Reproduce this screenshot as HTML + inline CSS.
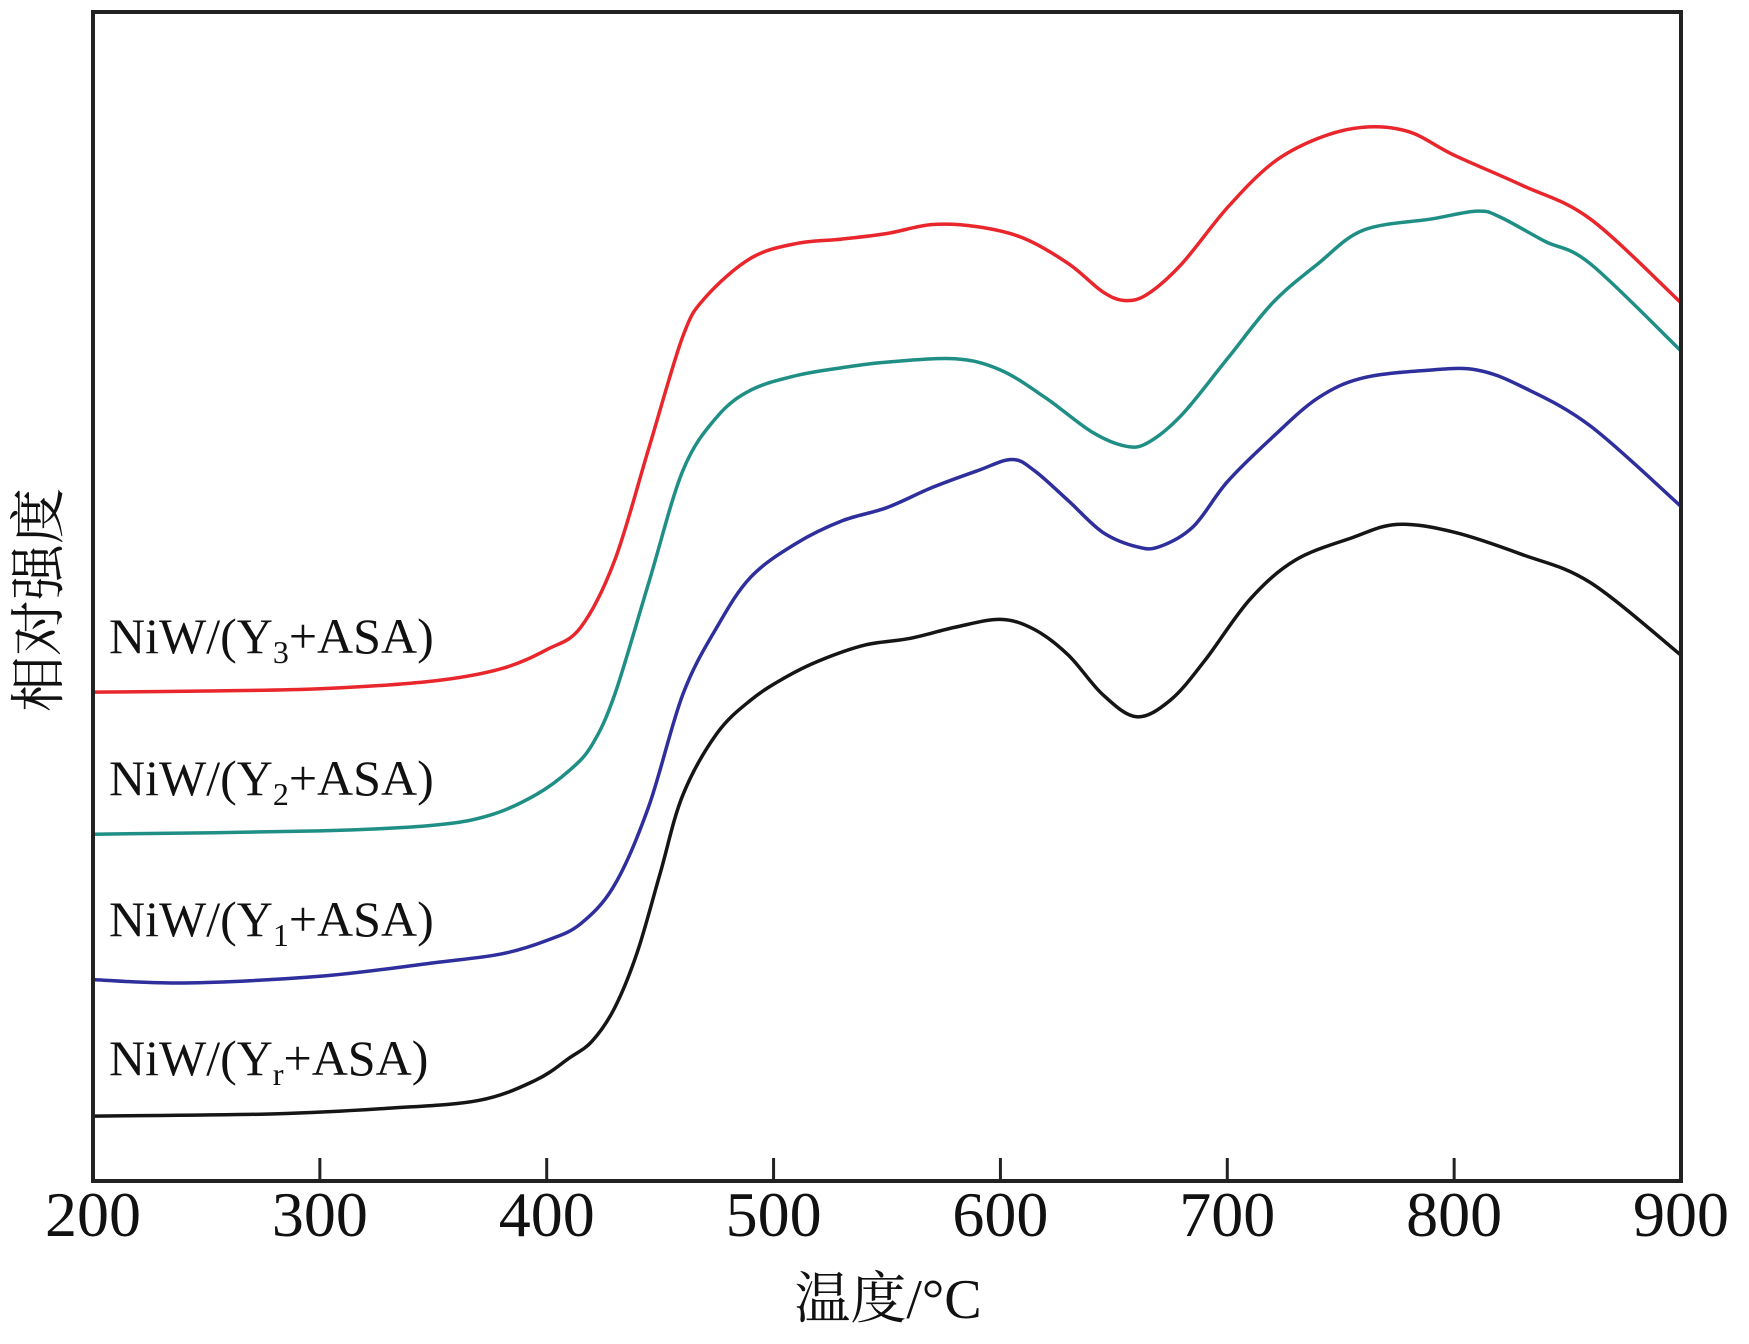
<!DOCTYPE html>
<html><head><meta charset="utf-8">
<style>
html,body{margin:0;padding:0;background:#fff;}
svg{display:block;}
text{font-family:"Liberation Serif","Noto Serif CJK SC",serif;fill:#111;}
</style></head>
<body>
<svg id="chart" width="1749" height="1344" viewBox="0 0 1749 1344" xmlns="http://www.w3.org/2000/svg">
<g id="plot"></g>
<rect x="93" y="12" width="1588" height="1169" fill="none" stroke="#222" stroke-width="4"/>
<g id="xticks"></g>
<text x="888" y="1318" font-size="56" text-anchor="middle" font-family="'Liberation Serif','Noto Serif CJK SC',serif">温度/°C</text>
<text transform="translate(58,600) rotate(-90)" font-size="56" text-anchor="middle" font-family="'Liberation Serif','Noto Serif CJK SC',serif">相对强度</text>
<text x="109" y="653" font-size="50">NiW/(Y<tspan font-size="32" dy="10">3</tspan><tspan dy="-10">+ASA)</tspan></text>
<text x="109" y="795" font-size="50">NiW/(Y<tspan font-size="32" dy="10">2</tspan><tspan dy="-10">+ASA)</tspan></text>
<text x="109" y="936" font-size="50">NiW/(Y<tspan font-size="32" dy="10">1</tspan><tspan dy="-10">+ASA)</tspan></text>
<text x="109" y="1075" font-size="50">NiW/(Y<tspan font-size="32" dy="10">r</tspan><tspan dy="-10">+ASA)</tspan></text>
</svg>
<script>
const xTicks=[200,300,400,500,600,700,800,900];
const redX=[200,250,300,350,380,400,415,430,445,460,470,490,510,530,550,570,590,610,630,645,655,665,680,700,720,740,760,780,800,830,860,900];
const redY=[618,617,615,608,597,580,560,500,400,300,265,230,217,213,208,200,202,212,235,260,268,262,235,185,145,123,113,117,138,165,195,270];
const tealX=[200,300,350,375,395,410,420,430,445,460,475,490,510,530,550,580,600,620,640,655,665,680,700,720,740,760,790,810,820,840,860,900];
const tealY=[745,742,737,728,710,688,665,620,520,420,372,348,335,328,323,320,330,355,385,398,395,370,320,270,235,205,195,188,193,215,235,313];
const blueX=[200,240,300,350,380,400,415,430,445,460,475,490,510,530,550,570,590,605,615,630,645,660,670,685,700,720,740,760,790,810,830,860,900];
const blueY=[875,878,872,860,852,840,825,790,720,620,560,515,485,465,453,435,420,410,420,447,475,488,488,470,430,390,355,337,330,330,345,380,452];
const blackX=[200,280,330,370,395,410,420,430,440,450,460,475,490,505,520,540,560,580,600,615,630,645,660,675,690,710,730,755,775,800,830,860,900];
const blackY=[997,995,990,983,965,945,930,900,850,780,710,655,625,605,590,576,570,560,553,562,585,620,640,625,590,535,500,480,468,475,495,520,585];
// intensity units: top of axis 10, bottom 1055 (arbitrary, larger = lower)
const X=v=>93+(v-200)/700*1588;
const Y=v=>12+(v-10)*(1169/1045);
const NS="http://www.w3.org/2000/svg";
function pathD(xs,ys){
  const p=xs.map((x,i)=>[X(x),Y(ys[i])]);
  let d=`M${p[0][0]},${p[0][1]}`;
  for(let i=0;i<p.length-1;i++){
    const p0=p[Math.max(i-1,0)],p1=p[i],p2=p[i+1],p3=p[Math.min(i+2,p.length-1)];
    const c1=[p1[0]+(p2[0]-p0[0])/6,p1[1]+(p2[1]-p0[1])/6];
    const c2=[p2[0]-(p3[0]-p1[0])/6,p2[1]-(p3[1]-p1[1])/6];
    d+=` C${c1[0]},${c1[1]} ${c2[0]},${c2[1]} ${p2[0]},${p2[1]}`;
  }
  return d;
}
const plot=document.getElementById('plot');
function addLine(xs,ys,color,name){
  const el=document.createElementNS(NS,'path');
  el.setAttribute('d',pathD(xs,ys));
  el.setAttribute('fill','none');
  el.setAttribute('stroke',color);
  el.setAttribute('stroke-width','3.5');
  
  
  plot.appendChild(el);
}
addLine(redX,redY,'#e8262c','line-y3');
addLine(tealX,tealY,'#1f8f86','line-y2');
addLine(blueX,blueY,'#2e2f9c','line-y1');
addLine(blackX,blackY,'#151515','line-yr');
const xg=document.getElementById('xticks');
xTicks.forEach(t=>{
  const l=document.createElementNS(NS,'line');
  l.setAttribute('x1',X(t));l.setAttribute('x2',X(t));
  l.setAttribute('y1',1181);l.setAttribute('y2',1158);
  l.setAttribute('stroke','#222');l.setAttribute('stroke-width','3');
  
  
  xg.appendChild(l);
  const tx=document.createElementNS(NS,'text');
  tx.setAttribute('x',X(t));tx.setAttribute('y',1236);
  tx.setAttribute('font-size','64');tx.setAttribute('text-anchor','middle');
  tx.textContent=t;
  
  
  xg.appendChild(tx);
});
</script>
</body></html>
